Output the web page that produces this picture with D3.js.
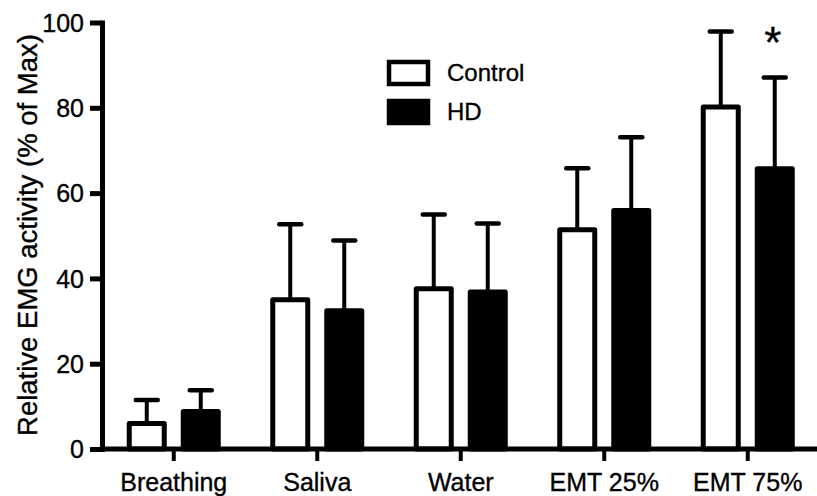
<!DOCTYPE html>
<html><head><meta charset="utf-8">
<script src="https://cdn.jsdelivr.net/npm/d3@7"></script>
<style>body{margin:0;background:#fff;} svg{display:block;font-family:"Liberation Sans",Arial,sans-serif;}</style>
</head><body>
<svg id="chart" width="817" height="496"></svg>
<script>
const categories = ["Breathing","Saliva","Water","EMT 25%","EMT 75%"];
const groups = ["Control","HD"];
const controlMean = [6.0, 35.0, 37.6, 51.4, 80.2];
const controlSD   = [5.5, 17.7, 17.4, 14.4, 17.7];
const hdMean = [8.8, 32.4, 36.8, 55.9, 65.7];
const hdSD   = [5.0, 16.5, 16.1, 17.2, 21.4];
const yTicks = [0,20,40,60,80,100];
const significant = ["EMT 75%"];

const svg = d3.select("#chart");
const mLeft = 102, mRight = 819.5, mTop = 22.5, mBottom = 449;

const x0 = d3.scaleBand().domain(categories).range([mLeft, mRight]);
const x1 = d3.scaleBand().domain(groups).range([x0.bandwidth()/2 - 54, x0.bandwidth()/2 + 54]);
const y = d3.scaleLinear().domain([0,100]).range([mBottom, mTop]);
const barW = 35;

const data = [];
categories.forEach((c,i)=>{
  data.push({cat:c, g:"Control", v:controlMean[i], e:controlSD[i]});
  data.push({cat:c, g:"HD", v:hdMean[i], e:hdSD[i]});
});
const cx = d => x0(d.cat) + x1(d.g) + x1.bandwidth()/2;

// error bars
const eb = svg.append("g");
eb.selectAll("line.v").data(data).join("line").attr("class","v")
  .attr("x1", cx).attr("x2", cx)
  .attr("y1", d=>y(d.v)).attr("y2", d=>y(d.v+d.e))
  .attr("stroke","#000").attr("stroke-width",4);
eb.selectAll("line.c").data(data).join("line").attr("class","c")
  .attr("x1", d=>cx(d)-11).attr("x2", d=>cx(d)+11)
  .attr("y1", d=>y(d.v+d.e)).attr("y2", d=>y(d.v+d.e))
  .attr("stroke","#000").attr("stroke-width",4.5).attr("stroke-linecap","round");

// bars
svg.append("g").selectAll("rect").data(data).join("rect")
  .attr("x", d=>cx(d)-barW/2).attr("width", barW)
  .attr("y", d=>y(d.v)).attr("height", d=>y(0)-y(d.v))
  .attr("fill", d=>d.g==="HD"?"#000":"#fff")
  .attr("stroke","#000").attr("stroke-width",5).attr("stroke-linejoin","round");

const textStyle = sel => sel.attr("fill","#000").attr("stroke","#000").attr("stroke-width",0.35)
  .attr("font-family","Liberation Sans, Arial, sans-serif");

// axes
const yAxis = svg.append("g").attr("transform",`translate(${mLeft},0)`)
  .call(d3.axisLeft(y).tickValues(yTicks).tickSize(12).tickSizeOuter(0).tickPadding(6));
yAxis.select(".domain").attr("stroke-width",5).attr("stroke-linecap","square");
yAxis.selectAll(".tick line").attr("stroke-width",5);
yAxis.selectAll(".tick text").attr("font-size",25).attr("dy","0.35em").call(textStyle);

const xAxis = svg.append("g").attr("transform",`translate(0,${mBottom})`)
  .call(d3.axisBottom(x0).tickSize(12).tickSizeOuter(0).tickPadding(12));
xAxis.select(".domain").attr("stroke-width",5).attr("d",`M${mLeft},0H817`);
xAxis.selectAll(".tick line").attr("stroke-width",4);
xAxis.selectAll(".tick text").attr("font-size",25).attr("dy","0.71em").call(textStyle);

// y title
svg.append("text").attr("transform",`translate(37,235) rotate(-90)`)
  .attr("text-anchor","middle").attr("font-size",27.5)
  .text("Relative EMG activity (% of Max)").call(textStyle);

// legend
const leg = svg.append("g").attr("transform","translate(389,62)");
groups.forEach((g,i)=>{
  leg.append("rect").attr("x",0).attr("y",i*39).attr("width",39).attr("height",22)
    .attr("fill", g==="HD"?"#000":"#fff").attr("stroke","#000").attr("stroke-width",4.5);
  leg.append("text").attr("x",58).attr("y",i*39+11).attr("dy","0.35em")
    .attr("font-size",24).text(g).call(textStyle);
});

// significance
significant.forEach(c=>{
  const i = categories.indexOf(c);
  const d = {cat:c, g:"HD"};
  svg.append("text").attr("x", cx(d)-2).attr("y", y(hdMean[i]+hdSD[i]) - 20)
    .attr("text-anchor","middle").attr("font-size",44).text("*").call(textStyle);
});
</script>
</body></html>
